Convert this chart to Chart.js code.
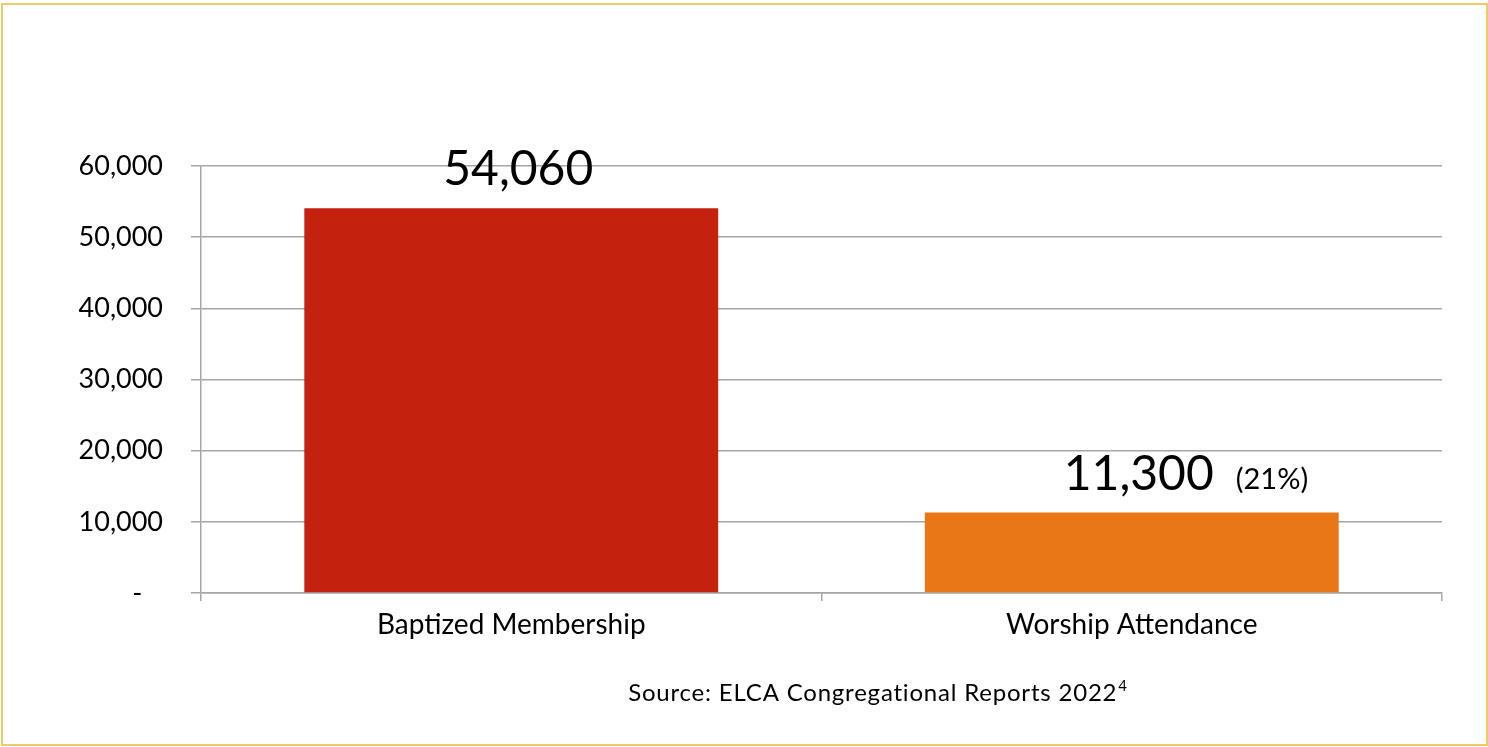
<!DOCTYPE html>
<html>
<head>
<meta charset="utf-8">
<title>Baptized Membership vs Worship Attendance</title>
<script src="https://cdn.jsdelivr.net/npm/chart.js@4/dist/chart.umd.min.js"></script>
<style>
    html, body { margin: 0; padding: 0; background: #ffffff; }
    canvas { display: block; }
</style>
</head>
<body>
<canvas id="membershipChart" width="1488" height="747"></canvas>
<script>
// Chart data
var categories = ['Baptized Membership', 'Worship Attendance'];
var memberValues = [54060, 11300];
var barColors = ['#c4210f', '#e97716'];
var yTicks = [0, 10000, 20000, 30000, 40000, 50000, 60000];
var sourceText = 'Source: ELCA Congregational Reports 2022';
var sourceNote = '4';

var fontFamily = 'Lato, "DejaVu Sans", sans-serif';
var gridColor = '#a6a6a6';

function formatNumber(v) {
    return v.toLocaleString('en-US');
}

// Value labels above each bar, with the attendance share next to the second one
var barLabels = {
    id: 'barLabels',
    afterDatasetsDraw: function(chart) {
        var ctx = chart.ctx;
        var meta = chart.getDatasetMeta(0);
        ctx.save();
        ctx.fillStyle = '#000000';
        ctx.textBaseline = 'alphabetic';
        meta.data.forEach(function(bar, i) {
            var text = formatNumber(memberValues[i]);
            ctx.font = '48px ' + fontFamily;
            ctx.textAlign = 'center';
            var cx = bar.x + 7;
            var by = bar.y - 23;
            ctx.fillText(text, cx, by);
            if (i > 0) {
                var w = ctx.measureText(text).width;
                var pct = Math.round(memberValues[i] / memberValues[0] * 100);
                ctx.font = '29px ' + fontFamily;
                ctx.textAlign = 'left';
                ctx.fillText('(' + pct + '%)', cx + w / 2 + 22, by - 1);
            }
        });
        ctx.restore();
    }
};

// Source line and the frame around the whole chart
var frameAndSource = {
    id: 'frameAndSource',
    afterDraw: function(chart) {
        var ctx = chart.ctx;
        var area = chart.chartArea;
        ctx.save();
        ctx.fillStyle = '#000000';
        ctx.textBaseline = 'alphabetic';
        ctx.letterSpacing = '0.8px';
        ctx.font = '24px ' + fontFamily;
        var mainW = ctx.measureText(sourceText).width;
        ctx.font = '15px ' + fontFamily;
        var noteW = ctx.measureText(sourceNote).width;
        var startX = (area.left + area.right) / 2 + 56 - (mainW + noteW) / 2;
        ctx.textAlign = 'left';
        ctx.font = '24px ' + fontFamily;
        ctx.fillText(sourceText, startX, 701);
        ctx.font = '15px ' + fontFamily;
        ctx.fillText(sourceNote, startX + mainW + 1, 691);

        ctx.strokeStyle = '#f3cb66';
        ctx.lineWidth = 2;
        ctx.strokeRect(2, 4, chart.width - 3, chart.height - 6);
        ctx.restore();
    }
};

var ctx = document.getElementById('membershipChart').getContext('2d');
var membershipChart = new Chart(ctx, {
    type: 'bar',
    data: {
        labels: categories,
        datasets: [{
            data: memberValues,
            backgroundColor: barColors,
            borderWidth: 0,
            barPercentage: 0.667,
            categoryPercentage: 1.0
        }]
    },
    options: {
        responsive: false,
        animation: false,
        layout: {
            padding: { top: 166, right: 46, bottom: 0, left: 0 }
        },
        plugins: {
            legend: { display: false },
            tooltip: { enabled: false },
            title: { display: false }
        },
        scales: {
            x: {
                offset: true,
                grid: {
                    offset: true,
                    drawOnChartArea: false,
                    drawTicks: true,
                    tickLength: 8,
                    color: gridColor,
                    lineWidth: 1.5
                },
                border: { color: gridColor, width: 1.5 },
                ticks: {
                    color: '#000000',
                    padding: 7,
                    font: { family: fontFamily, size: 28 }
                },
                afterFit: function(scale) {
                    scale.height = 154;
                }
            },
            y: {
                min: 0,
                max: 60000,
                afterBuildTicks: function(scale) {
                    scale.ticks = yTicks.map(function(v) { return { value: v }; });
                },
                grid: {
                    color: gridColor,
                    lineWidth: 1.5,
                    tickLength: 10
                },
                border: { color: gridColor, width: 1.5 },
                ticks: {
                    color: '#000000',
                    padding: 28,
                    font: { family: fontFamily, size: 27 },
                    callback: function(value) {
                        return value === 0 ? '-   ' : formatNumber(value);
                    }
                },
                afterFit: function(scale) {
                    scale.width = 201;
                }
            }
        }
    },
    plugins: [barLabels, frameAndSource]
});
</script>
</body>
</html>
